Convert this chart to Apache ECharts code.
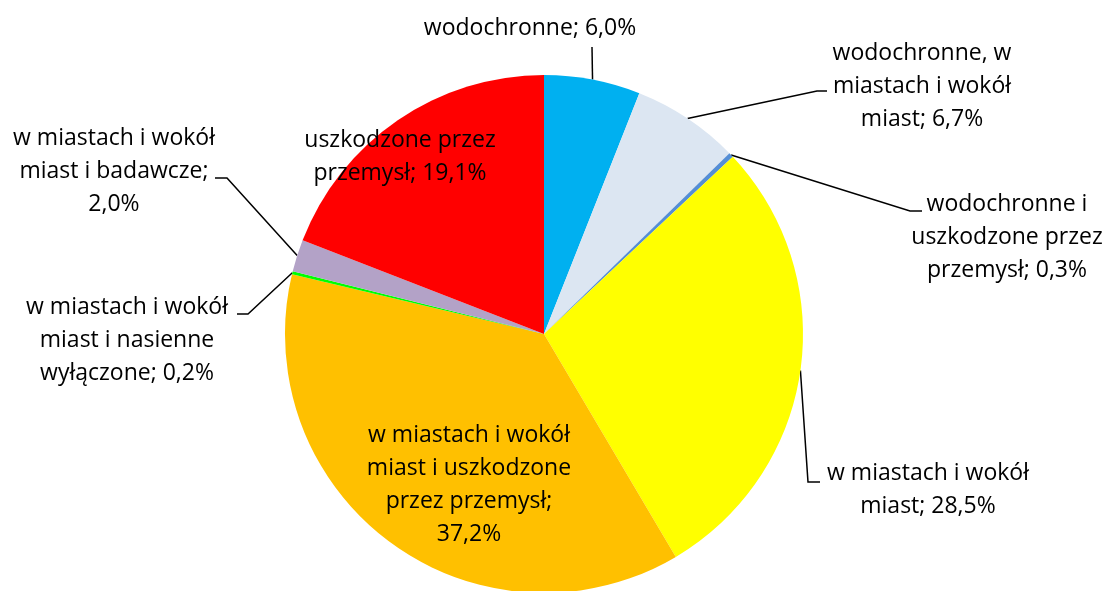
<!DOCTYPE html>
<html>
<head>
<meta charset="utf-8">
<script src="https://cdn.jsdelivr.net/npm/echarts@6/dist/echarts.min.js"></script>
<style>
  html, body { margin: 0; padding: 0; background: #fff; }
  #chart { width: 1105px; height: 591px; }
</style>
</head>
<body>
<div id="chart"></div>
<script>
// kategorie (etykiety z podziałem na linie jak w oryginale)
const categories = [
  "wodochronne",
  "wodochronne, w\nmiastach i wokół\nmiast",
  "wodochronne i\nuszkodzone przez\nprzemysł",
  "w miastach i wokół\nmiast",
  "w miastach i wokół\nmiast i uszkodzone\nprzez przemysł;\n",
  "w miastach i wokół\nmiast i nasienne\nwyłączone",
  "w miastach i wokół\nmiast i badawcze;\n",
  "uszkodzone przez\nprzemysł"
];
const values = [6.0, 6.7, 0.3, 28.5, 37.2, 0.2, 2.0, 19.1];
const colors = ["#00B0F0", "#DCE6F2", "#558ED5", "#FFFF00", "#FFC000", "#00FF00", "#B3A2C7", "#FF0000"];

// położenie etykiet (środek tekstu) i załamania linii odniesienia
const labelPos = [
  { x: 530, y: 28, line: [[592, 47], [592, 47]] },
  { x: 922, y: 86, line: [[817, 91], [827, 91]] },
  { x: 1007, y: 237, line: [[910, 211], [922, 211]] },
  { x: 928, y: 490, line: [[808, 482], [820, 482]] },
  { x: 469, y: 485, line: null },
  { x: 127, y: 340, line: [[248, 314], [237, 314]] },
  { x: 114, y: 171, line: [[227, 178], [215, 178]] },
  { x: 400, y: 157, line: null }
];

const fmt = v => v.toFixed(1).replace(".", ",") + "%";

const chart = echarts.init(document.getElementById("chart"));
chart.setOption({
  animation: false,
  color: colors,
  series: [{
    type: "pie",
    center: [544, 334],
    radius: 259,
    startAngle: 90,
    clockwise: true,
    avoidLabelOverlap: false,
    itemStyle: { borderWidth: 0 },
    label: {
      show: true,
      position: "outside",
      color: "#000",
      fontFamily: "Open Sans",
      fontSize: 23,
      lineHeight: 33,
      align: "center",
      formatter: p => {
        const name = p.name;
        return name.endsWith("\n") ? name + fmt(p.value) : name + "; " + fmt(p.value);
      }
    },
    labelLine: {
      show: true,
      lineStyle: { color: "#000", width: 1.5 }
    },
    emphasis: { disabled: true },
    data: categories.map((c, i) => ({
      name: c,
      value: values[i],
      labelLine: { show: labelPos[i].line !== null }
    })),
    labelLayout: params => {
      const pos = labelPos[params.dataIndex];
      const out = { x: pos.x, y: pos.y, align: "center", verticalAlign: "middle" };
      if (pos.line && params.labelLinePoints) {
        out.labelLinePoints = [params.labelLinePoints[0], pos.line[0], pos.line[1]];
      }
      return out;
    }
  }]
});
</script>
</body>
</html>
